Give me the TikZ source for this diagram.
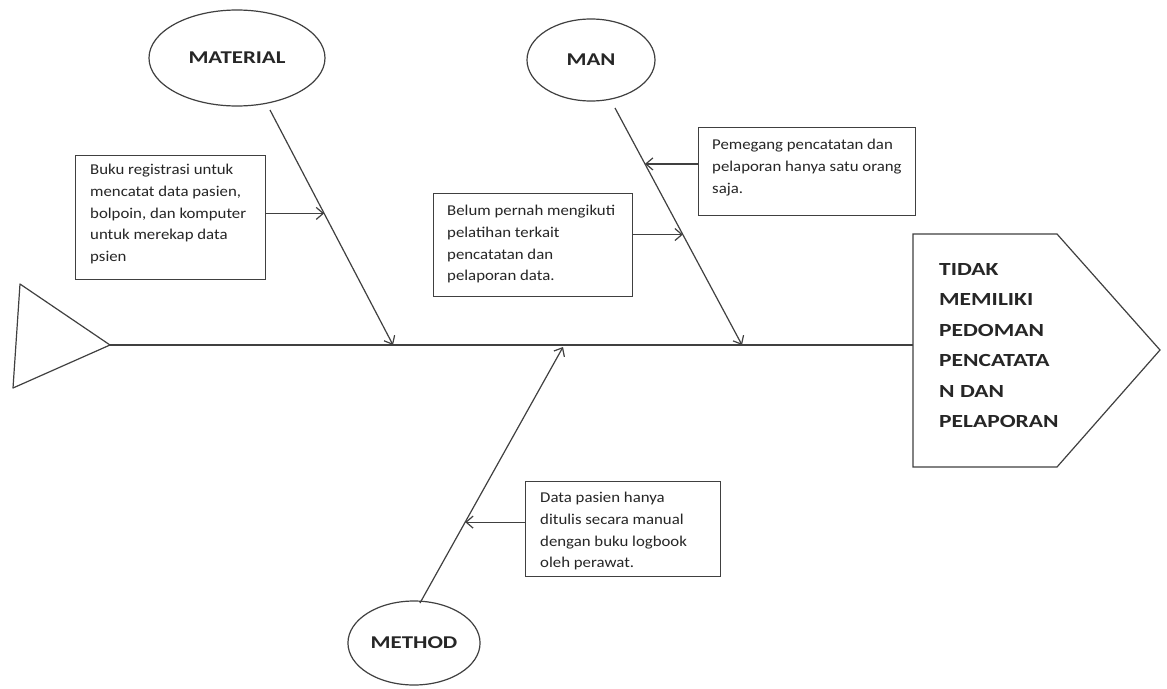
\documentclass[tikz,border=0pt]{standalone}
\usepackage{fontspec}
\setmainfont{Carlito}
\newfontfamily\wfont[FakeStretch=1.12]{Carlito}
\newfontfamily\hfont[FakeStretch=1.27]{Carlito}
\usetikzlibrary{arrows.meta,calc,shapes.geometric}
\begin{document}
\begin{tikzpicture}[x=1pt,y=-1pt,
  ln/.style={draw=black!75,line width=1.2pt},
  arr/.style={ln,-{Straight Barb[length=7pt,width=12pt]}},
  ell/.style={ellipse,draw=black!75,line width=1.2pt,text=black!85,font=\hfont\bfseries\fontsize{18}{20}\selectfont},
  cbox/.style={draw=black!75,line width=1.2pt,anchor=north west,inner sep=0pt},
  btext/.style={anchor=north west,align=left,inner sep=0pt,text=black!85,font=\wfont\fontsize{15}{21.7}\selectfont},
  htext/.style={anchor=north west,align=left,inner sep=0pt,text=black!85,font=\hfont\bfseries\fontsize{18.5}{30.5}\selectfont}
]
\useasboundingbox (0,0) rectangle (1167,688);
\fill[white] (0,0) rectangle (1167,688);

% tail triangle
\coordinate (tA) at (20,284);
\coordinate (tip) at (110,345);
\coordinate (tB) at (13,388);
\draw[ln,line join=round] (tA) -- (tip) -- (tB) -- cycle;

% head pentagon
\coordinate (hA) at (913,234);
\coordinate (hB) at (1057,234);
\coordinate (hC) at (1160,350);
\coordinate (hD) at (1057,467);
\coordinate (hE) at (913,467);
\draw[ln] (hA) -- (hB) -- (hC) -- (hD) -- (hE) -- cycle;
\node[htext] (head) at (939,263) {TIDAK\\MEMILIKI\\PEDOMAN\\PENCATATA\\N DAN\\PELAPORAN};

% spine
\coordinate (sp) at (913,345);
\draw[ln] (tip) -- (sp);

% category ellipses
\node[ell,minimum width=176pt,minimum height=96pt] (mat) at (237,58) {MATERIAL};
\node[ell,minimum width=128pt,minimum height=82pt] (man) at (591,60) {MAN};
\node[ell,minimum width=128pt,minimum height=84pt] (met) at (414,643) {METHOD};

% bones
\coordinate (mat1) at (270,110);
\coordinate (matT) at (393,345);
\coordinate (man1) at (615,108);
\coordinate (manT) at (742,345);
\coordinate (met1) at (420,603);
\coordinate (metT) at (563,347);
\draw[arr] (mat1) -- (matT);
\draw[arr] (man1) -- (manT);
\draw[arr] (met1) -- (metT);

% cause boxes
\node[cbox,minimum width=190pt,minimum height=124pt] (b1) at (75,155) {};
\node[btext] (t1) at (90,164) {Buku registrasi untuk\\mencatat data pasien,\\bolpoin, dan komputer\\untuk merekap data\\psien};
\node[cbox,minimum width=199pt,minimum height=103pt] (b2) at (433,193) {};
\node[btext] (t2) at (447,205) {Belum pernah mengikuti\\pelatihan terkait\\pencatatan dan\\pelaporan data.};
\node[cbox,minimum width=217pt,minimum height=88pt] (b3) at (698,127) {};
\node[btext] (t3) at (712,139) {Pemegang pencatatan dan\\pelaporan hanya satu orang\\saja.};
\node[cbox,minimum width=195pt,minimum height=95pt] (b4) at (525,481) {};
\node[btext] (t4) at (540,492) {Data pasien hanya\\ditulis secara manual\\dengan buku logbook\\oleh perawat.};

% sub-cause arrows
\coordinate (p1) at ($(mat1)!0.44!(matT)$);
\coordinate (p2) at ($(man1)!0.534!(manT)$);
\coordinate (p3) at ($(man1)!0.236!(manT)$);
\coordinate (p4) at ($(met1)!0.316!(metT)$);
\draw[arr] (b1.east |- p1) -- (p1);
\draw[arr] (b2.east |- p2) -- (p2);
\draw[arr] (b3.west |- p3) -- (p3);
\draw[arr] (b4.west |- p4) -- (p4);
\end{tikzpicture}
\end{document}
